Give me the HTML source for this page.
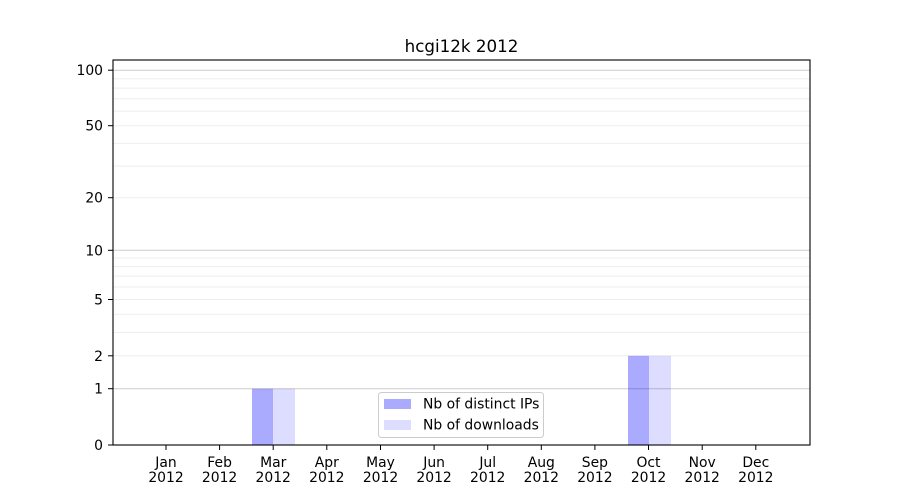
<!DOCTYPE html>
<html><head><meta charset="utf-8"><style>
html,body{margin:0;padding:0;background:#fff;}
svg{display:block;}
text{font-family:"DejaVu Sans","Liberation Sans",sans-serif;fill:#000;}
</style></head><body>
<svg width="900" height="500" viewBox="0 0 900 500" xmlns="http://www.w3.org/2000/svg">
<rect x="0" y="0" width="900" height="500" fill="#fff"/>
<!-- bars -->
<rect x="252" y="388.7" width="21" height="56.3" fill="#aaaaff"/>
<rect x="273" y="388.7" width="22" height="56.3" fill="#ddddff"/>
<rect x="628" y="355.8" width="21" height="89.2" fill="#aaaaff"/>
<rect x="649" y="355.8" width="22" height="89.2" fill="#ddddff"/>
<!-- minor grid -->
<g stroke="#000" stroke-opacity="0.07" stroke-width="1">
<line x1="113" x2="810" y1="355.8" y2="355.8"/>
<line x1="113" x2="810" y1="332.4" y2="332.4"/>
<line x1="113" x2="810" y1="314.3" y2="314.3"/>
<line x1="113" x2="810" y1="299.5" y2="299.5"/>
<line x1="113" x2="810" y1="287.0" y2="287.0"/>
<line x1="113" x2="810" y1="276.1" y2="276.1"/>
<line x1="113" x2="810" y1="266.6" y2="266.6"/>
<line x1="113" x2="810" y1="258.0" y2="258.0"/>
<line x1="113" x2="810" y1="197.7" y2="197.7"/>
<line x1="113" x2="810" y1="166.1" y2="166.1"/>
<line x1="113" x2="810" y1="143.4" y2="143.4"/>
<line x1="113" x2="810" y1="125.7" y2="125.7"/>
<line x1="113" x2="810" y1="111.1" y2="111.1"/>
<line x1="113" x2="810" y1="98.8" y2="98.8"/>
<line x1="113" x2="810" y1="88.1" y2="88.1"/>
<line x1="113" x2="810" y1="78.7" y2="78.7"/>
</g>
<!-- major grid -->
<g stroke="#000" stroke-opacity="0.2" stroke-width="1">
<line x1="113" x2="810" y1="388.7" y2="388.7"/>
<line x1="113" x2="810" y1="250.3" y2="250.3"/>
<line x1="113" x2="810" y1="70.2" y2="70.2"/>
</g>
<!-- axes frame -->
<rect x="113" y="60" width="697" height="385" fill="none" stroke="#000" stroke-width="1.1"/>
<!-- y ticks -->
<g stroke="#000" stroke-width="1">
<line x1="108" x2="113" y1="445" y2="445"/>
<line x1="108" x2="113" y1="388.7" y2="388.7"/>
<line x1="108" x2="113" y1="355.8" y2="355.8"/>
<line x1="108" x2="113" y1="299.5" y2="299.5"/>
<line x1="108" x2="113" y1="250.3" y2="250.3"/>
<line x1="108" x2="113" y1="197.7" y2="197.7"/>
<line x1="108" x2="113" y1="125.7" y2="125.7"/>
<line x1="108" x2="113" y1="70.2" y2="70.2"/>
</g>
<g font-size="13.9" text-anchor="end">
<text x="103" y="450">0</text>
<text x="103" y="393.7">1</text>
<text x="103" y="360.8">2</text>
<text x="103" y="304.5">5</text>
<text x="103" y="255.3">10</text>
<text x="103" y="202.7">20</text>
<text x="103" y="130.7">50</text>
<text x="103" y="75.2">100</text>
</g>
<!-- x ticks -->
<g stroke="#000" stroke-width="1">
<line x1="166" x2="166" y1="445" y2="450"/>
<line x1="219.6" x2="219.6" y1="445" y2="450"/>
<line x1="273.2" x2="273.2" y1="445" y2="450"/>
<line x1="326.8" x2="326.8" y1="445" y2="450"/>
<line x1="380.5" x2="380.5" y1="445" y2="450"/>
<line x1="434.1" x2="434.1" y1="445" y2="450"/>
<line x1="487.7" x2="487.7" y1="445" y2="450"/>
<line x1="541.3" x2="541.3" y1="445" y2="450"/>
<line x1="594.9" x2="594.9" y1="445" y2="450"/>
<line x1="648.5" x2="648.5" y1="445" y2="450"/>
<line x1="702.2" x2="702.2" y1="445" y2="450"/>
<line x1="755.8" x2="755.8" y1="445" y2="450"/>
</g>
<g font-size="13.9" text-anchor="middle">
<text x="166" y="467">Jan</text><text x="166" y="482">2012</text>
<text x="219.6" y="467">Feb</text><text x="219.6" y="482">2012</text>
<text x="273.2" y="467">Mar</text><text x="273.2" y="482">2012</text>
<text x="326.8" y="467">Apr</text><text x="326.8" y="482">2012</text>
<text x="380.5" y="467">May</text><text x="380.5" y="482">2012</text>
<text x="434.1" y="467">Jun</text><text x="434.1" y="482">2012</text>
<text x="487.7" y="467">Jul</text><text x="487.7" y="482">2012</text>
<text x="541.3" y="467">Aug</text><text x="541.3" y="482">2012</text>
<text x="594.9" y="467">Sep</text><text x="594.9" y="482">2012</text>
<text x="648.5" y="467">Oct</text><text x="648.5" y="482">2012</text>
<text x="702.2" y="467">Nov</text><text x="702.2" y="482">2012</text>
<text x="755.8" y="467">Dec</text><text x="755.8" y="482">2012</text>
</g>
<!-- title -->
<text x="461.5" y="52" font-size="16.7" text-anchor="middle">hcgi12k 2012</text>
<!-- legend -->
<rect x="378.5" y="392.5" width="165" height="45" rx="3" ry="3" fill="#fff" fill-opacity="0.8" stroke="#cccccc" stroke-width="1"/>
<rect x="384" y="399" width="27" height="10" fill="#aaaaff"/>
<rect x="384" y="420" width="27" height="10" fill="#ddddff"/>
<g font-size="13.9">
<text x="423" y="408.5">Nb of distinct IPs</text>
<text x="423" y="429.5">Nb of downloads</text>
</g>
</svg>
</body></html>
